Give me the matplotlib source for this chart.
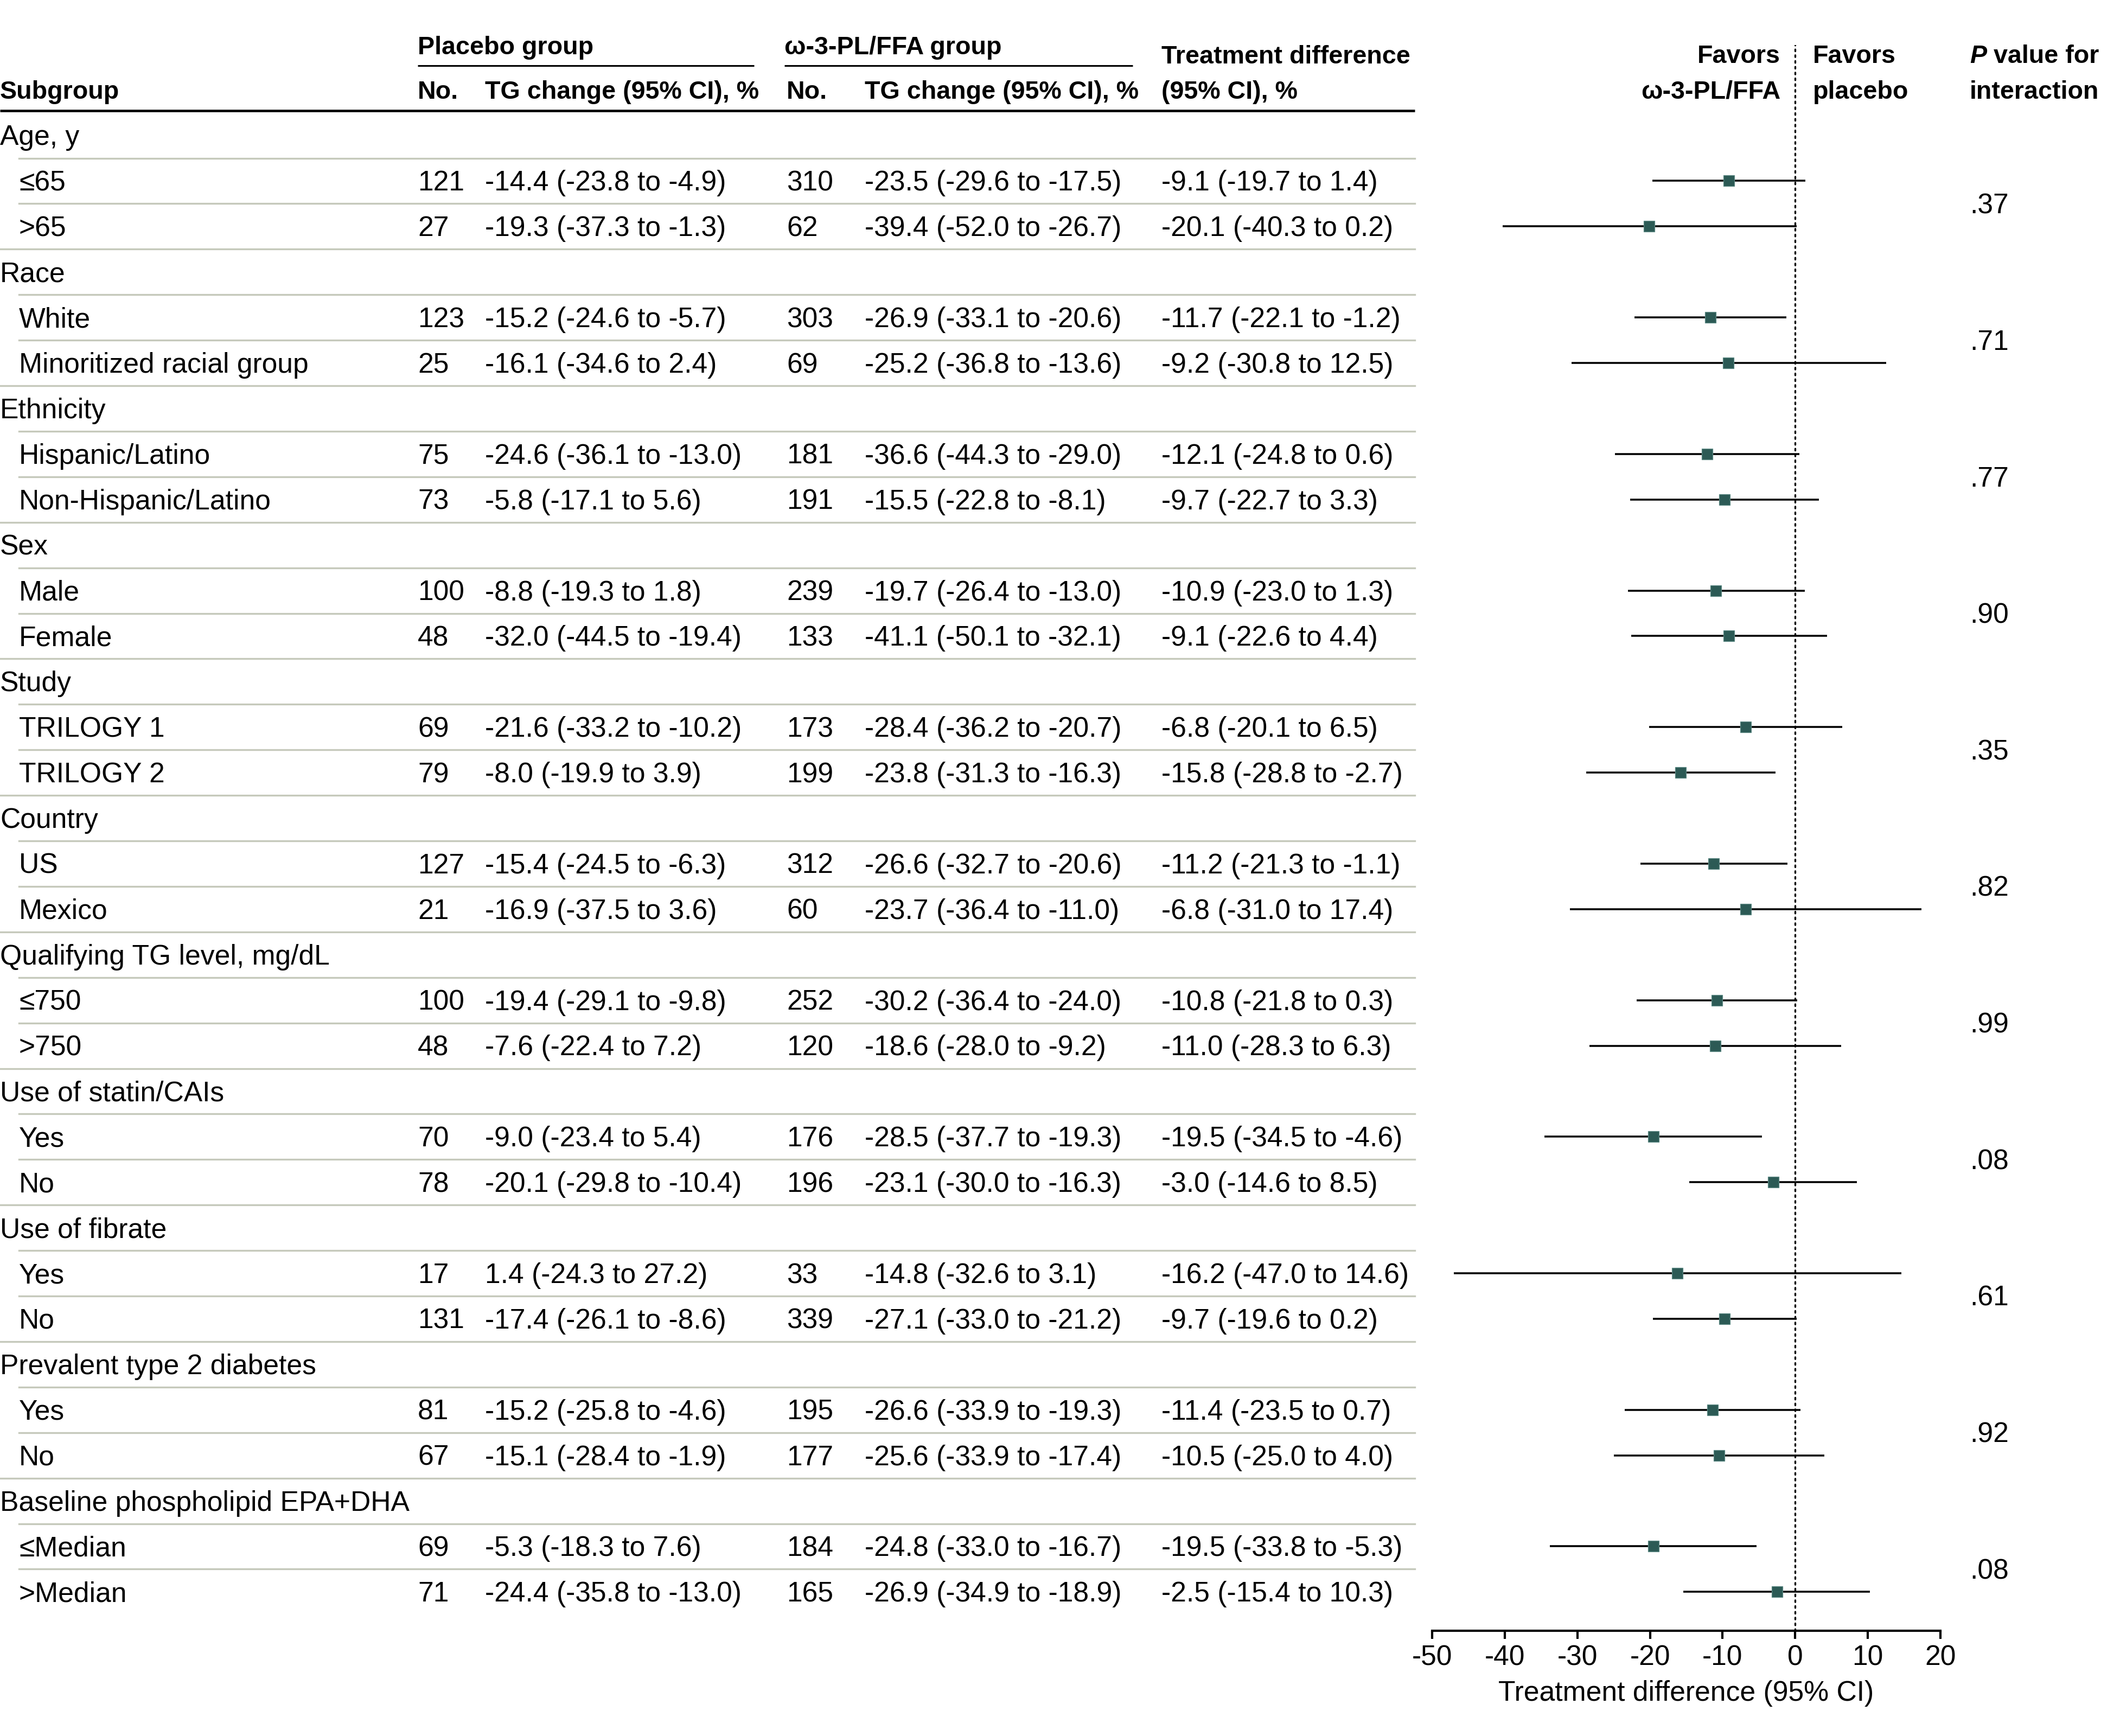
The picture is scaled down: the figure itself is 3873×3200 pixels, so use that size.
import matplotlib
matplotlib.use("Agg")
import matplotlib.pyplot as plt
import numpy as np

# =============================================================================
# DATA
# =============================================================================
categories = ["Age, y", "Race", "Ethnicity", "Sex", "Study", "Country",
              "Qualifying TG level, mg/dL", "Use of statin/CAIs", "Use of fibrate",
              "Prevalent type 2 diabetes", "Baseline phospholipid EPA+DHA"]
subgroups = [["≤65", ">65"], ["White", "Minoritized racial group"],
             ["Hispanic/Latino", "Non-Hispanic/Latino"], ["Male", "Female"],
             ["TRILOGY 1", "TRILOGY 2"], ["US", "Mexico"], ["≤750", ">750"],
             ["Yes", "No"], ["Yes", "No"], ["Yes", "No"], ["≤Median", ">Median"]]

placebo_n = [121, 27, 123, 25, 75, 73, 100, 48, 69, 79, 127, 21, 100, 48, 70, 78, 17, 131, 81, 67, 69, 71]
placebo_chg = [-14.4, -19.3, -15.2, -16.1, -24.6, -5.8, -8.8, -32.0, -21.6, -8.0, -15.4, -16.9,
               -19.4, -7.6, -9.0, -20.1, 1.4, -17.4, -15.2, -15.1, -5.3, -24.4]
placebo_lo = [-23.8, -37.3, -24.6, -34.6, -36.1, -17.1, -19.3, -44.5, -33.2, -19.9, -24.5, -37.5,
              -29.1, -22.4, -23.4, -29.8, -24.3, -26.1, -25.8, -28.4, -18.3, -35.8]
placebo_hi = [-4.9, -1.3, -5.7, 2.4, -13.0, 5.6, 1.8, -19.4, -10.2, 3.9, -6.3, 3.6,
              -9.8, 7.2, 5.4, -10.4, 27.2, -8.6, -4.6, -1.9, 7.6, -13.0]

omega_n = [310, 62, 303, 69, 181, 191, 239, 133, 173, 199, 312, 60, 252, 120, 176, 196, 33, 339, 195, 177, 184, 165]
omega_chg = [-23.5, -39.4, -26.9, -25.2, -36.6, -15.5, -19.7, -41.1, -28.4, -23.8, -26.6, -23.7,
             -30.2, -18.6, -28.5, -23.1, -14.8, -27.1, -26.6, -25.6, -24.8, -26.9]
omega_lo = [-29.6, -52.0, -33.1, -36.8, -44.3, -22.8, -26.4, -50.1, -36.2, -31.3, -32.7, -36.4,
            -36.4, -28.0, -37.7, -30.0, -32.6, -33.0, -33.9, -33.9, -33.0, -34.9]
omega_hi = [-17.5, -26.7, -20.6, -13.6, -29.0, -8.1, -13.0, -32.1, -20.7, -16.3, -20.6, -11.0,
            -24.0, -9.2, -19.3, -16.3, 3.1, -21.2, -19.3, -17.4, -16.7, -18.9]

diff = [-9.1, -20.1, -11.7, -9.2, -12.1, -9.7, -10.9, -9.1, -6.8, -15.8, -11.2, -6.8,
        -10.8, -11.0, -19.5, -3.0, -16.2, -9.7, -11.4, -10.5, -19.5, -2.5]
diff_lo = [-19.7, -40.3, -22.1, -30.8, -24.8, -22.7, -23.0, -22.6, -20.1, -28.8, -21.3, -31.0,
           -21.8, -28.3, -34.5, -14.6, -47.0, -19.6, -23.5, -25.0, -33.8, -15.4]
diff_hi = [1.4, 0.2, -1.2, 12.5, 0.6, 3.3, 1.3, 4.4, 6.5, -2.7, -1.1, 17.4,
           0.3, 6.3, -4.6, 8.5, 14.6, 0.2, 0.7, 4.0, -5.3, 10.3]

p_interaction = [".37", ".71", ".77", ".90", ".35", ".82", ".99", ".08", ".61", ".92", ".08"]

xticks = [-50, -40, -30, -20, -10, 0, 10, 20]

# =============================================================================
# LAYOUT (pixels of the 3873 x 3200 output)
# =============================================================================
W, H = 3873, 3200
DPI = 300
FS = 12.4          # body text
FSH = 11.2         # bold header text
row0 = 249.5       # centre of first row
dy = 83.9          # row pitch
base = 18          # centre -> baseline
line_right = 2608
col_indent = 35
col_npl, col_tgpl = 770, 894
col_nom, col_tgom = 1450, 1594
col_td = 2141
col_p = 3631
sep_col = "#c5c9bb"
sq_col = "#2c5a55"

plt.rcParams['font.family'] = ['Liberation Sans', 'DejaVu Sans']
plt.rcParams['font.size'] = FS

fig = plt.figure(figsize=(W / DPI, H / DPI), dpi=DPI)
ax_t = fig.add_axes([0, 0, 1, 1])
ax_t.set_xlim(0, W)
ax_t.set_ylim(H, 0)
ax_t.axis('off')


def fmt(e, lo, hi):
    return "%.1f (%.1f to %.1f)" % (e, lo, hi)


def txt(x, y, s, **kw):
    return ax_t.text(x, y, s, va='baseline', ha=kw.pop('ha', 'left'), **kw)


def head(x, y, s, **kw):
    return txt(x, y, s, weight='bold', fontsize=FSH, **kw)


# ---- header -----------------------------------------------------------------
head(col_npl, 100, "Placebo group")
head(col_nom - 4, 100, "ω-3-PL/FFA group")
head(col_td, 117, "Treatment difference")
head(0, 182, "Subgroup")
head(col_npl, 182, "No.")
head(col_tgpl, 182, "TG change (95% CI), %")
head(col_nom, 182, "No.")
head(col_tgom, 182, "TG change (95% CI), %")
head(col_td, 182, "(95% CI), %")
ax_t.plot([col_npl, 1390], [121, 121], color='black', lw=0.75, solid_capstyle='butt')
ax_t.plot([1446, 2088], [121, 121], color='black', lw=0.75, solid_capstyle='butt')
ax_t.plot([0, line_right], [204, 204], color='black', lw=1.1, solid_capstyle='butt')

head(3282, 116, "Favors", ha='right')
head(3282, 182, "ω-3-PL/FFA", ha='right')
head(3342, 116, "Favors")
head(3342, 182, "placebo")
tp = head(col_p, 116, "P", style='italic')
ax_t.annotate(" value for", xy=(1, 0), xycoords=tp, va='bottom', ha='left',
              weight='bold', fontsize=FSH)
head(col_p, 182, "interaction")

# ---- table rows ---------------------------------------------------------------
forest_rows = []
k = 0
for g, cat in enumerate(categories):
    r = g * 3
    yc = row0 + r * dy
    txt(0, yc + base, cat)
    ax_t.plot([col_indent, line_right], [yc + 42, yc + 42], color=sep_col, lw=0.8)
    for j, sub in enumerate(subgroups[g]):
        yc = row0 + (r + 1 + j) * dy
        txt(col_indent, yc + base, sub)
        txt(col_npl, yc + base, str(placebo_n[k]))
        txt(col_tgpl, yc + base, fmt(placebo_chg[k], placebo_lo[k], placebo_hi[k]))
        txt(col_nom, yc + base, str(omega_n[k]))
        txt(col_tgom, yc + base, fmt(omega_chg[k], omega_lo[k], omega_hi[k]))
        txt(col_td, yc + base, fmt(diff[k], diff_lo[k], diff_hi[k]))
        forest_rows.append(r + 1 + j)
        if j == 0:
            ax_t.plot([col_indent, line_right], [yc + 42, yc + 42], color=sep_col, lw=0.8)
        elif g < len(categories) - 1:
            ax_t.plot([0, line_right], [yc + 42, yc + 42], color=sep_col, lw=0.8)
        k += 1
    txt(col_p, row0 + (r + 1.5) * dy + base, p_interaction[g])

# ---- forest plot ---------------------------------------------------------------
fx0, fx1 = 2640, 3577
fy_top, fy_bot = 83, 3006
ax = fig.add_axes([fx0 / W, 1 - fy_bot / H, (fx1 - fx0) / W, (fy_bot - fy_top) / H])
ax.set_xlim(-50, 20)
ax.set_ylim((fy_bot - row0) / dy, (fy_top - row0) / dy)
ax.patch.set_alpha(0)

ax.axvline(0, color='black', lw=0.8, ls=(0, (1, 2.2)), dash_capstyle='round', zorder=1)
rows = np.array(forest_rows)
ax.hlines(rows, diff_lo, diff_hi, color='black', lw=0.85, zorder=2)
ax.plot(diff, rows, ls='none', marker='s', ms=4.8, mfc=sq_col, mec='#5f8b86', mew=0.3, zorder=3)

for s in ['top', 'left', 'right']:
    ax.spines[s].set_visible(False)
ax.spines['bottom'].set_linewidth(1.0)
ax.set_yticks([])
ax.set_xticks(xticks)
ax.set_xticklabels([str(t) for t in xticks])
ax.tick_params(axis='x', direction='out', length=3.6, width=1.0, pad=2.5, labelsize=FS)
ax.set_xlabel("Treatment difference (95% CI)", fontsize=FS, labelpad=4)

fig.savefig("out.png", dpi=DPI)
plt.close(fig)
